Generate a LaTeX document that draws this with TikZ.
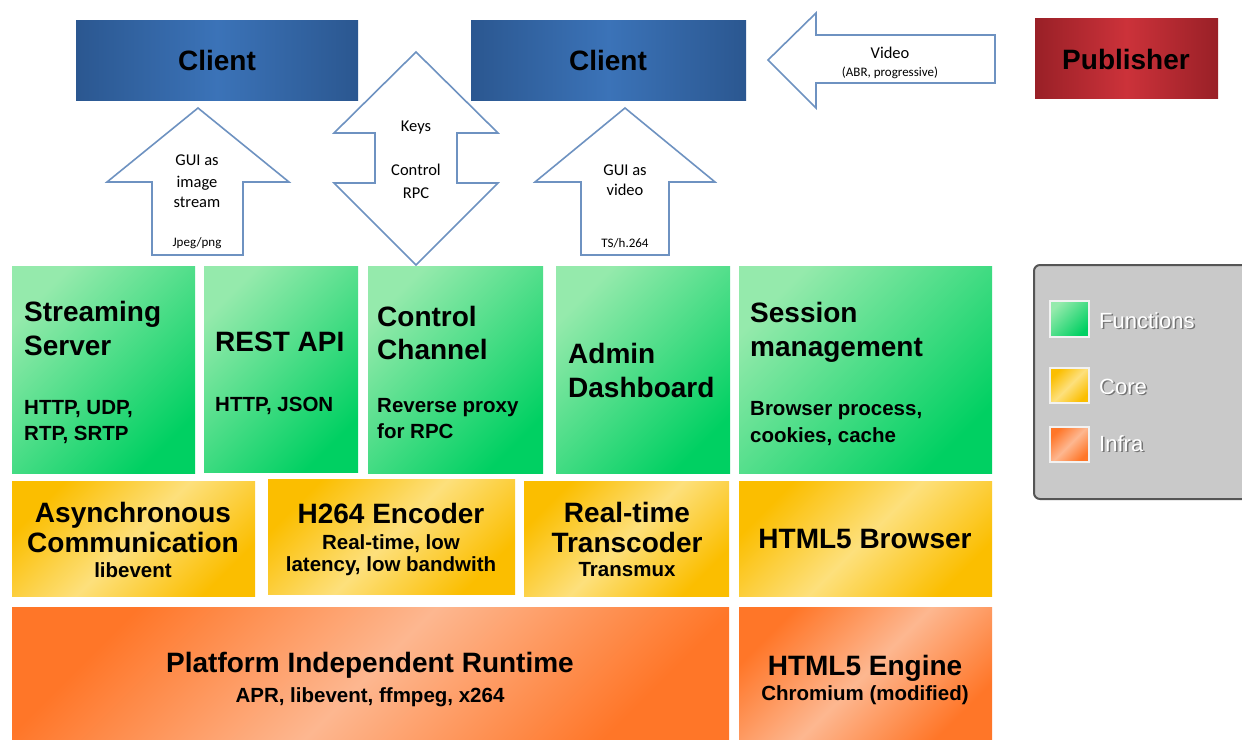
\documentclass[tikz,border=0pt]{standalone}
\usepackage{fontspec}
\setmainfont{Liberation Sans}
\newfontfamily\calfont{Carlito}
\definecolor{fnlight}{HTML}{95EAAC}
\definecolor{fndark}{HTML}{00D062}
\definecolor{coreedge}{HTML}{FBBE00}
\definecolor{coremid}{HTML}{FDE07C}
\definecolor{infraedge}{HTML}{FF7628}
\definecolor{inframid}{HTML}{FDB790}
\definecolor{blueedge}{HTML}{2B5790}
\definecolor{bluemid}{HTML}{3B73B8}
\definecolor{rededge}{HTML}{992027}
\definecolor{redmid}{HTML}{CC323A}
\definecolor{arrowblue}{HTML}{6E92C1}
\definecolor{legfill}{HTML}{C9C9C9}
\definecolor{legborder}{HTML}{555555}
\tikzset{
  box/.style={inner sep=0pt, outer sep=0pt, anchor=north west},
  fnbox/.style={box, top color=fnlight, bottom color=fndark, shading angle=45},
  corebox/.style={box, top color=coreedge, bottom color=coreedge, middle color=coremid, shading angle=45},
  infrabox/.style={box, top color=infraedge, bottom color=infraedge, middle color=inframid, shading angle=45},
  clientbox/.style={box, left color=blueedge, right color=blueedge, middle color=bluemid},
  pubbox/.style={box, left color=rededge, right color=rededge, middle color=redmid},
  title/.style={font=\fontsize{28}{30}\selectfont\bfseries, inner sep=0pt, anchor=base west},
  sub/.style={font=\fontsize{20.5}{22}\selectfont\bfseries, inner sep=0pt, anchor=base west},
  ctitle/.style={title, anchor=base},
  csub/.style={sub, anchor=base},
  atext/.style={font=\calfont\fontsize{16.5}{18}\selectfont, inner sep=0pt, anchor=base},
  asmall/.style={font=\calfont\fontsize{13}{14}\selectfont, inner sep=0pt, anchor=base},
  blockarrow/.style={draw=arrowblue, line width=1.6pt, fill=white, line join=miter},
  legsq/.style={box, draw=white!90!gray, line width=1.5pt},
  legtext/.style={font=\fontsize{22}{24}\selectfont, inner sep=0pt, anchor=base west, text=white},
  legshadow/.style={font=\fontsize{22}{24}\selectfont, inner sep=0pt, anchor=base west, text=black!55}
}
\begin{document}
\begin{tikzpicture}[x=1pt, y=-1pt]
\useasboundingbox (0,0) rectangle (1242,739);
\fill[white] (0,0) rectangle (1242,739);

% Clients and publisher
\node[clientbox, minimum width=282pt, minimum height=80pt] (client1) at (76,20) {};
\node[clientbox, minimum width=275pt, minimum height=80pt] (client2) at (471,20) {};
\node[pubbox, minimum width=183pt, minimum height=80pt] (publisher) at (1035,18) {};
\node[ctitle] (client1t) at (217,70) {Client};
\node[ctitle] (client2t) at (608,70) {Client};
\node[ctitle] (publishert) at (1126,69) {Publisher};

% Block arrows
\draw[blockarrow] (198,108) -- (289,182) -- (243,182) -- (243,255) -- (152,255) -- (152,182) -- (107,182) -- cycle;
\draw[blockarrow] (416,52) -- (498,133) -- (457,133) -- (457,183) -- (498,183) -- (416,265) -- (334,183) -- (375,183) -- (375,133) -- (334,133) -- cycle;
\draw[blockarrow] (625,108) -- (715,182) -- (669,182) -- (669,255) -- (581,255) -- (581,182) -- (535,182) -- cycle;
\draw[blockarrow] (768,60) -- (816,13) -- (816,35) -- (995,35) -- (995,83) -- (816,83) -- (816,108) -- cycle;

\node[atext] (a1l1) at (197,165) {GUI as};
\node[atext] (a1l2) at (197,187) {image};
\node[atext] (a1l3) at (197,207) {stream};
\node[asmall] (a1l4) at (197,246) {Jpeg/png};
\node[atext] (a2l1) at (416,131) {Keys};
\node[atext] (a2l2) at (416,175) {Control};
\node[atext] (a2l3) at (416,198) {RPC};
\node[atext] (a3l1) at (625,175) {GUI as};
\node[atext] (a3l2) at (625,195) {video};
\node[asmall] (a3l3) at (625,247) {TS/h.264};
\node[atext] (a4l1) at (890,58) {Video};
\node[asmall] (a4l2) at (890,76) {(ABR, progressive)};

% Function row
\node[fnbox, minimum width=183pt, minimum height=207pt] (ss) at (12,266) {};
\node[fnbox, minimum width=154pt, minimum height=206pt] (rest) at (204,266) {};
\node[fnbox, minimum width=175pt, minimum height=207pt] (ctrl) at (368,266) {};
\node[fnbox, minimum width=174pt, minimum height=207pt] (admin) at (556,266) {};
\node[fnbox, minimum width=253pt, minimum height=207pt] (sess) at (739,266) {};

\node[title] (ss1) at (24,321) {Streaming};
\node[title] (ss2) at (24,355) {Server};
\node[sub] (ss3) at (24,414) {HTTP, UDP,};
\node[sub] (ss4) at (24,440) {RTP, SRTP};
\node[title] (rest1) at (215,351) {REST API};
\node[sub] (rest2) at (215,411) {HTTP, JSON};
\node[title] (ctrl1) at (377,326) {Control};
\node[title] (ctrl2) at (377,359) {Channel};
\node[sub] (ctrl3) at (377,412) {Reverse proxy};
\node[sub] (ctrl4) at (377,438) {for RPC};
\node[title] (admin1) at (568,363) {Admin};
\node[title] (admin2) at (568,397) {Dashboard};
\node[title] (sess1) at (750,322) {Session};
\node[title] (sess2) at (750,356) {management};
\node[sub] (sess3) at (750,415) {Browser process,};
\node[sub] (sess4) at (750,442) {cookies, cache};

% Core row
\node[corebox, minimum width=243pt, minimum height=115pt] (async) at (12,481) {};
\node[corebox, minimum width=247pt, minimum height=115pt] (h264) at (268,479) {};
\node[corebox, minimum width=205pt, minimum height=115pt] (trans) at (524,481) {};
\node[corebox, minimum width=253pt, minimum height=115pt] (browser) at (739,481) {};

\node[ctitle] (async1) at (133,522) {Asynchronous};
\node[ctitle] (async2) at (133,552) {Communication};
\node[csub] (async3) at (133,577) {libevent};
\node[ctitle] (h2641) at (391,523) {H264 Encoder};
\node[csub] (h2642) at (391,549) {Real-time, low};
\node[csub] (h2643) at (391,571) {latency, low bandwith};
\node[ctitle] (trans1) at (627,522) {Real-time};
\node[ctitle] (trans2) at (627,552) {Transcoder};
\node[csub] (trans3) at (627,576) {Transmux};
\node[ctitle] (browser1) at (865,548) {HTML5 Browser};

% Infra row
\node[infrabox, minimum width=717pt, minimum height=133pt] (runtime) at (12,607) {};
\node[infrabox, minimum width=253pt, minimum height=133pt] (engine) at (739,607) {};
\node[ctitle] (runtime1) at (370,672) {Platform Independent Runtime};
\node[csub] (runtime2) at (370,702) {APR, libevent, ffmpeg, x264};
\node[ctitle] (engine1) at (865,675) {HTML5 Engine};
\node[csub] (engine2) at (865,700) {Chromium (modified)};

% Legend
\node[box, fill=legfill, draw=legborder, line width=2pt, rounded corners=6pt, minimum width=220pt, minimum height=234pt] (legend) at (1034,265) {};
\node[legsq, top color=fnlight, bottom color=fndark, shading angle=45, minimum width=39pt, minimum height=36pt] (legfn) at (1050,301) {};
\node[legsq, top color=coreedge, bottom color=coreedge, middle color=coremid, shading angle=45, minimum width=39pt, minimum height=35pt] (legcore) at (1050,368) {};
\node[legsq, top color=infraedge, bottom color=infraedge, middle color=inframid, shading angle=45, minimum width=39pt, minimum height=35pt] (leginfra) at (1050,427) {};
\node[legshadow] (legfns) at (1100.5,329.5) {Functions};
\node[legtext] (legfnt) at (1099,328) {Functions};
\node[legshadow] (legcores) at (1100.5,395.5) {Core};
\node[legtext] (legcoret) at (1099,394) {Core};
\node[legshadow] (leginfras) at (1100.5,452.5) {Infra};
\node[legtext] (leginfrat) at (1099,451) {Infra};
\end{tikzpicture}
\end{document}
